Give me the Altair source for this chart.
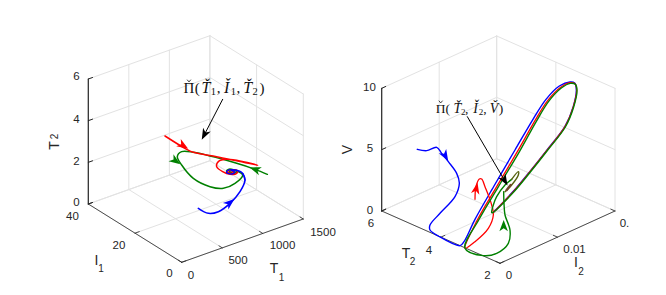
import altair as alt
import pandas as pd

# panel geometry: screen position of the box corners (front, right, left, height)
LEFT_BOX = dict(f=(181.7, 262.3), r=(303.3, 219.0), l=(88.3, 204.0), h=125.0)
RIGHT_BOX = dict(f=(500.0, 263.3), r=(615.0, 211.0), l=(381.7, 211.0), h=122.7)

# axis ticks
T1_TICKS = [0, 500, 1000, 1500]
I1_TICKS = [0, 20, 40]
T2L_TICKS = [0, 2, 4, 6]
T2R_TICKS = [2, 4, 6]
I2_TICKS = [0, 0.01, 0.02]
V_TICKS = [0, 5, 10]

# curves (3x crop units, left crop origin 30,20; right crop origin 340,20)
RED_L = [(405,348),(470,388),(490,397),(560,410),(620,422),(683,436),(640,425),(590,418),(565,425),(560,440),(578,455),(600,463),(620,460),(622,452),(605,450),(592,455),(600,460),(612,456),(605,453)]
GREEN_L = [(712,463),(675,448),(620,430),(490,397),(455,395),(442,410),(455,435),(490,475),(540,500),(580,505),(615,490),(638,465),(625,455),(595,448),(590,455),(605,462),(620,455),(605,450),(598,455),(605,458)]
BLUE_L = [(505,565),(535,580),(565,575),(600,550),(630,515),(645,480),(638,460),(615,450),(592,452),(590,458),(605,462),(615,456),(605,452)]
BLUE_R = [(232,388),(260,392),(290,382),(305,400),(325,425),(350,460),(358,490),(345,530),(300,580),(270,615),(270,630),(295,648),(360,677),(372,665),(405,598),(462,498),(525,390),(579,298),(618,238),(658,198),(690,186),(704,189),(709,210),(700,259),(675,319),(620,391),(570,454),(520,514),(460,577)]
RED_R = [(405,538),(408,500),(418,477),(425,477),(435,500),(452,545),(460,585),(445,625),(405,665),(375,685),(412,600),(470,500),(532,395),(585,302),(623,242),(662,202),(690,188),(705,191),(710,210),(700,260),(675,320),(620,392),(570,455),(520,515),(460,578)]
GREEN_R = [(491,515),(492,550),(495,585),(510,630),(505,670),(470,700),(430,707),(375,685),(416,600),(474,502),(537,397),(589,304),(626,244),(664,204),(691,190),(706,193),(711,211),(701,261),(676,321),(621,393),(571,456),(521,516),(458,578),(455,578),(460,555),(470,530),(495,495),(515,478)]
OLIVE_R = [(515,478),(535,455),(535,465),(515,495),(495,515)]
BROWN_R = [(500,510),(512,495)]

# arrows: crop x, crop y, direction, color
ARROWS_L = [(460,377,122,"#ff0000"),(437,423,125,"#008000"),(675,448,290,"#008000"),(600,548,50,"#0000ff"),(523,344,207,"#000000")]
ARROWS_R = [(316,408,150,"#0000ff"),(409,505,12,"#ff0000"),(491,617,0,"#008000"),(494,482,150,"#000000")]
LEADER_L = [(578,238),(520,350)]
LEADER_R = [(382,290),(497,487)]

COL_GRID = "#e2e2e2"
COL_AXIS = "#262626"

def proj(box, fa, fb, fc):
    x = box["f"][0] + fa * (box["r"][0] - box["f"][0]) + fb * (box["l"][0] - box["f"][0])
    y = box["f"][1] + fa * (box["r"][1] - box["f"][1]) + fb * (box["l"][1] - box["f"][1]) - fc * box["h"]
    return x, y

def norm(v, ticks):
    return (v - ticks[0]) / (ticks[-1] - ticks[0])

seg_rows, axis_rows, text_rows = [], [], []
sid = 0
def seg(rows, p, q, **kw):
    global sid
    sid += 1
    rows.append(dict(x=p[0], y=p[1], k=0, id=sid, **kw))
    rows.append(dict(x=q[0], y=q[1], k=1, id=sid, **kw))

def box(b, A, B, C):
    P = lambda a, c, z: proj(b, a, c, z)
    for t in A:
        a = norm(t, A)
        seg(seg_rows, P(a, 0, 0), P(a, 1, 0))
        seg(seg_rows, P(a, 1, 0), P(a, 1, 1))
    for t in B:
        c = norm(t, B)
        seg(seg_rows, P(0, c, 0), P(1, c, 0))
        seg(seg_rows, P(1, c, 0), P(1, c, 1))
    for t in C:
        z = norm(t, C)
        seg(seg_rows, P(0, 1, z), P(1, 1, z))
        seg(seg_rows, P(1, 1, z), P(1, 0, z))
    seg(axis_rows, P(0, 0, 0), P(1, 0, 0), w=0.8)
    seg(axis_rows, P(0, 0, 0), P(0, 1, 0), w=0.8)
    seg(axis_rows, P(0, 1, 0), P(0, 1, 1), w=1.2)
    for t in A:
        a = norm(t, A)
        seg(axis_rows, P(a, 0, 0), P(a, 0.035, 0), w=0.8)
    for t in B:
        c = norm(t, B)
        seg(axis_rows, P(0, c, 0), P(0.035, c, 0), w=0.8)
    for t in C:
        z = norm(t, C)
        seg(axis_rows, P(0, 1, z), P(0.035, 1, z), w=1.0)

box(LEFT_BOX, T1_TICKS, I1_TICKS, T2L_TICKS)
box(RIGHT_BOX, I2_TICKS, T2R_TICKS, V_TICKS)

def T(s, x, y, size=11.5, angle=0):
    text_rows.append(dict(t=s, x=x, y=y, s=size, a=angle))

# left labels
for s, y in zip(["6", "4", "2", "0"], [77, 120, 161.7, 203]):
    T(s, 76.5, y)
for s, x, y in [("40", 72.5, 216.5), ("20", 119, 246), ("0", 169.5, 274), ("0", 191, 276),
                ("500", 238, 261), ("1000", 282.5, 246), ("1500", 323, 232.5)]:
    T(s, x, y)
T("T", 274, 268.5, 14); T("1", 281.5, 278, 10)
T("I", 96.5, 261, 14); T("1", 101, 269, 10)
T("T", 55, 145.5, 14, 270); T("2", 55, 136.5, 10, 270)
# right labels
for s, y in zip(["10", "5", "0"], [87.5, 149.3, 210.7]):
    T(s, 370 if s != "10" else 369.5, y)
for s, x, y in [("6", 371, 224), ("4", 429, 251), ("2", 487.5, 276), ("0", 509, 276),
                ("0.01", 574.5, 250), ("0.", 624.5, 223.5)]:
    T(s, x, y)
T("T", 406, 253.5, 14); T("2", 412.5, 262, 10)
T("I", 576, 263, 14); T("2", 581, 272, 10)
T("V", 348, 149.5, 14, 270)

# math annotation pieces: text, x, baseline, size, style (0 upright, 1 italic)
MATH = [
    ("\u03a0", 189, 92.7, 15, 0), ("(", 197.3, 92.7, 15, 0), ("\u0164", 206, 92.7, 16, 1),
    ("1", 213.3, 95, 10.5, 0), (",", 218.7, 92.7, 15, 0), ("\u01cf", 226.7, 92.7, 16, 1),
    ("1", 233.3, 95, 10.5, 0), (",", 238.3, 92.7, 15, 0), ("\u0164", 247.7, 92.7, 16, 1),
    ("2", 255, 95, 10.5, 0), (")", 262, 92.7, 15, 0),
    ("\u03a0", 440.7, 112.7, 13.5, 0), ("(", 447.7, 112.7, 13.5, 0), ("\u0164", 457.3, 112.7, 14, 1),
    ("2", 463.3, 115, 9, 0), (",", 466.7, 112.7, 13.5, 0), ("\u01cf", 475.7, 112.7, 14, 1),
    ("2", 481, 115, 9, 0), (",", 485, 112.7, 13.5, 0), ("V\u030c", 494, 112.7, 14, 1), (")", 501, 112.7, 13.5, 0),
]
# caron accents over the Pi glyphs
CARONS = [(189, 80.8), (440.7, 101.8)]

def L(p): return 30 + p[0] / 3, 20 + p[1] / 3
def R(p): return 340 + p[0] / 3, 20 + p[1] / 3

curve_rows = []
def curve(pts, f, color, width, name):
    for i, p in enumerate(pts):
        x, y = f(p)
        curve_rows.append(dict(x=x, y=y, k=i, id=name, c=color, w=width))

X = alt.X("x:Q", scale=alt.Scale(domain=[8, 658], nice=False, zero=False), axis=None)
Y = alt.Y("y:Q", scale=alt.Scale(domain=[287, 8], nice=False, zero=False), axis=None)

def lines(rows, interpolate="linear"):
    df = pd.DataFrame(rows)
    return alt.Chart(df).mark_line(interpolate=interpolate, strokeCap="round", strokeJoin="round", clip=False).encode(
        x=X, y=Y, detail="id:N", order="k:Q",
        strokeWidth=alt.StrokeWidth("w:Q", scale=None),
        color=alt.Color("c:N", scale=None))

for r in seg_rows:
    r.update(c=COL_GRID, w=1.0)
for r in axis_rows:
    r.update(c=COL_AXIS)

leader_rows = []
seg(leader_rows, L(LEADER_L[0]), L(LEADER_L[1]), c="#000000", w=1.0)
seg(leader_rows, R(LEADER_R[0]), R(LEADER_R[1]), c="#000000", w=1.0)

curve(GREEN_L, L, "#008000", 1.5, "gl")
curve(RED_L, L, "#ff0000", 1.5, "rl")
curve(BLUE_L[5:], L, "#0000ff", 1.3, "bl2")
curve(BLUE_L[:7], L, "#0000ff", 1.6, "bl")
curve(BLUE_R, R, "#0000ff", 1.4, "br")
curve(RED_R, R, "#ff0000", 1.3, "rr")
curve(GREEN_R, R, "#008000", 1.4, "gr")
curve(OLIVE_R, R, "#55610f", 1.4, "or")
curve(BROWN_R, R, "#70452a", 2.4, "nr")

arrow_rows = []
for a in ARROWS_L:
    x, y = L(a)
    arrow_rows.append(dict(x=x, y=y, a=a[2], c=a[3]))
for a in ARROWS_R:
    x, y = R(a)
    arrow_rows.append(dict(x=x, y=y, a=a[2], c=a[3]))

ARROW = "M0,-1L0.75,1L0,0.45L-0.75,1Z"
arrows = alt.Chart(pd.DataFrame(arrow_rows)).mark_point(shape=ARROW, filled=True, opacity=1, strokeWidth=0, size=130, clip=False).encode(
    x=X, y=Y, angle=alt.Angle("a:Q", scale=None), color=alt.Color("c:N", scale=None))

carons = alt.Chart(pd.DataFrame(CARONS, columns=["x", "y"])).mark_point(
    shape="M-1,-0.6L0,0.6L1,-0.6", filled=False, opacity=1, strokeWidth=0.8, size=14, color="#111111", clip=False
).encode(x=X, y=Y)

labels = alt.Chart(pd.DataFrame(text_rows)).mark_text(font="Liberation Sans", color=COL_AXIS, align="center", baseline="middle").encode(
    x=X, y=Y, text="t:N", size=alt.Size("s:Q", scale=None), angle=alt.Angle("a:Q", scale=None))

mdf = pd.DataFrame(MATH, columns=["t", "x", "y", "s", "i"])
def math(df, style, font="Liberation Serif"):
    return alt.Chart(df).mark_text(font=font, fontStyle=style, color="#111111", align="center", baseline="alphabetic").encode(
        x=X, y=Y, text="t:N", size=alt.Size("s:Q", scale=None))

chart = alt.layer(
    lines(seg_rows),
    lines(axis_rows),
    lines(curve_rows, interpolate="catmull-rom"),
    lines(leader_rows),
    arrows,
    labels,
    math(mdf[mdf.i == 0], "normal"),
    math(mdf[mdf.i == 1], "italic"),
    carons,
).properties(width=650, height=279, autosize=alt.AutoSizeParams(type="none"), padding=0, background="white"
).configure_view(stroke=None)

chart.save("out.html", embed_options={"renderer": "svg", "actions": False})
